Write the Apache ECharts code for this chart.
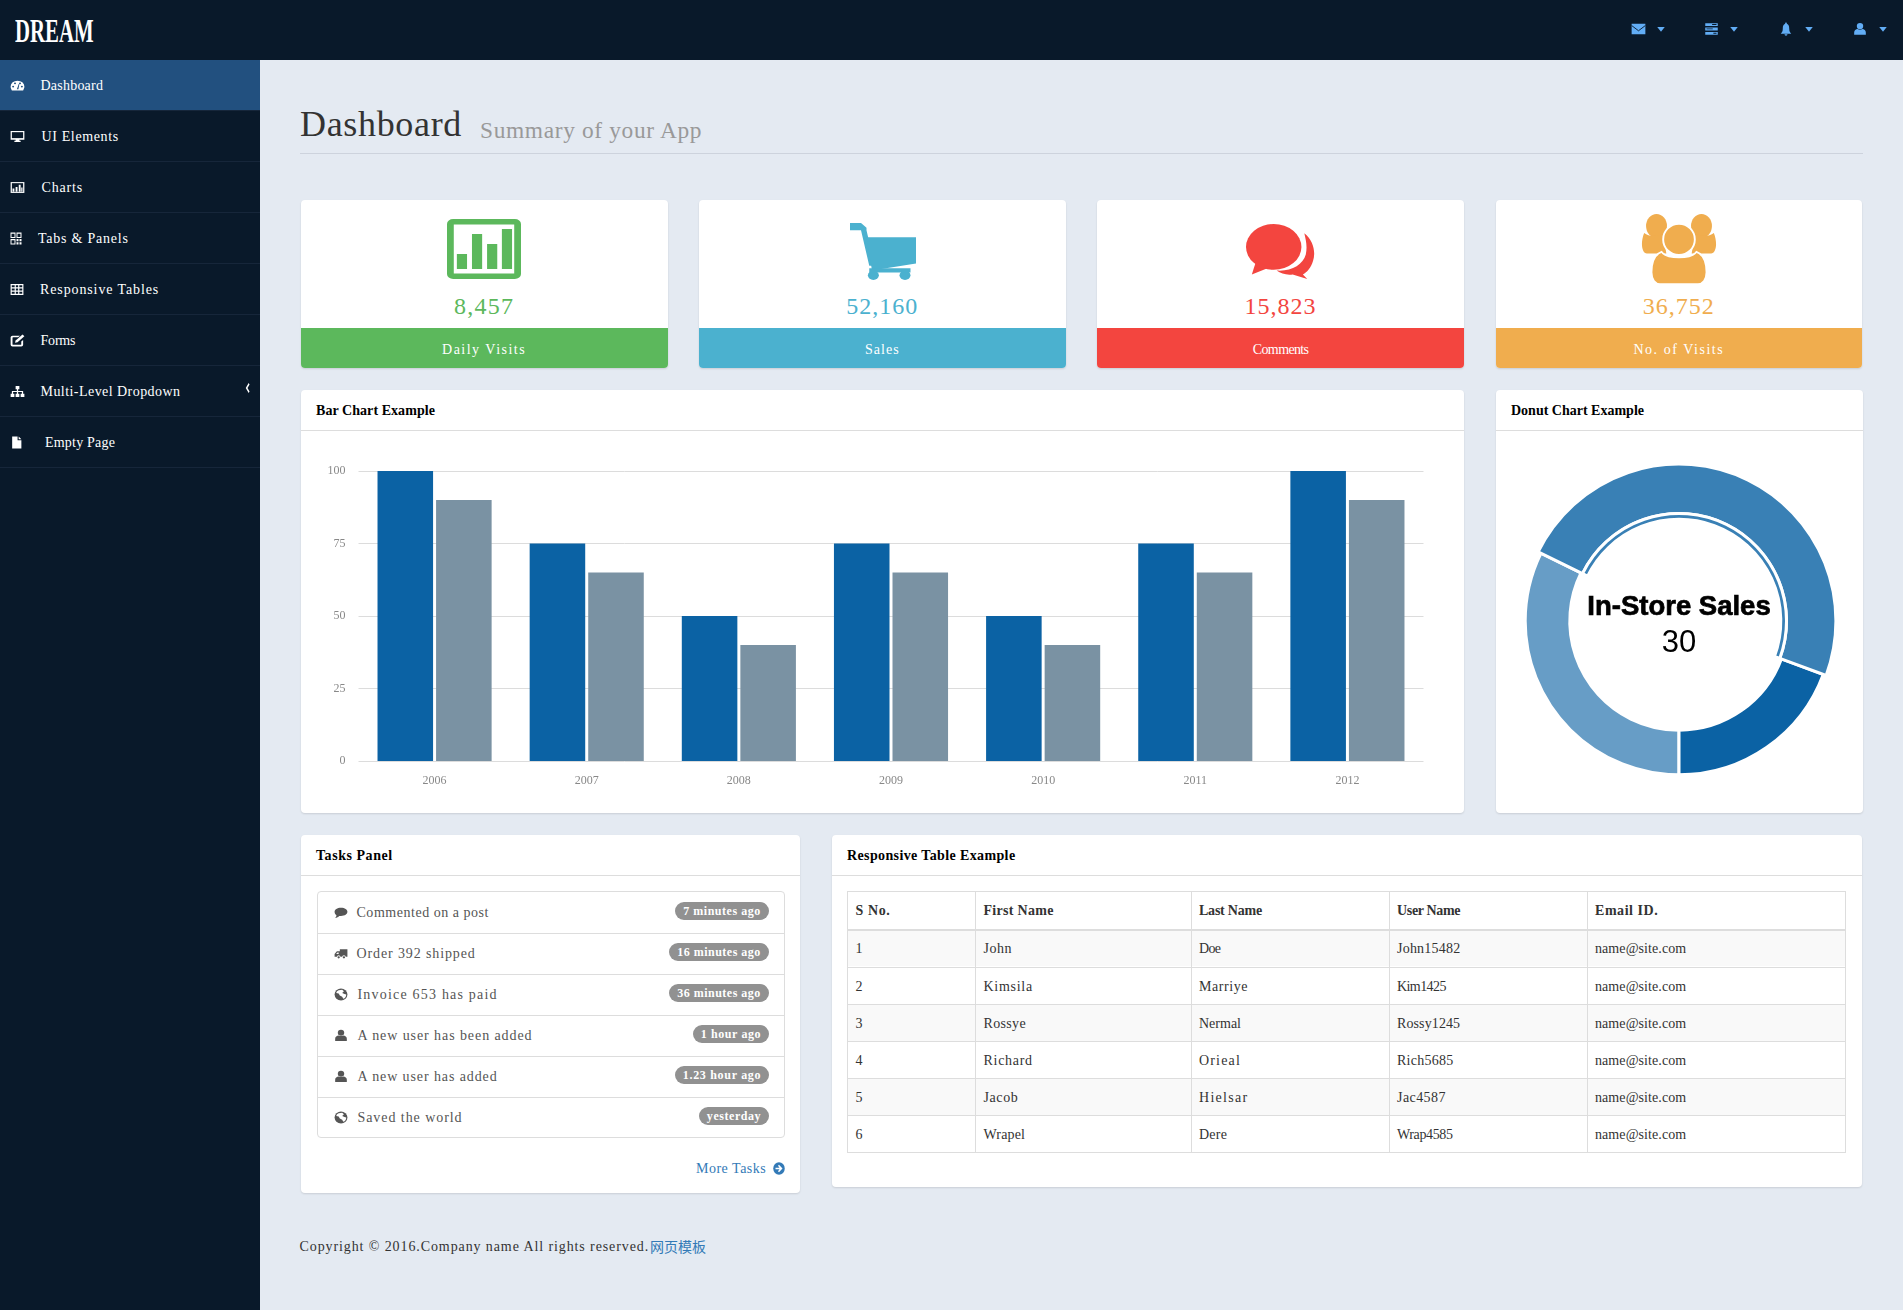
<!DOCTYPE html>
<html>
<head>
<meta charset="utf-8">
<title>DREAM Dashboard</title>
<script src="https://cdn.jsdelivr.net/npm/echarts@6/dist/echarts.min.js"></script>
<style>
    html, body { margin: 0; padding: 0; width: 1903px; height: 1310px; overflow: hidden; background: #e4eaf2; }
    body { position: relative; font-family: "Liberation Serif", serif; font-size: 14px; color: #333; }
    .box, .txt, svg.icon { position: absolute; box-sizing: border-box; }
    .txt { white-space: pre; line-height: 20px; height: 20px; }
    .panel { background: #fff; border-radius: 4px; box-shadow: 0 1px 2px rgba(0, 0, 0, .12); }
    #barChart, #donutChart { position: absolute; }
</style>
</head>
<body>
<div id="page"></div>
<div id="barChart" style="left:302px;top:432px;width:1160px;height:380px"></div>
<div id="donutChart" style="left:1497px;top:432px;width:364px;height:380px"></div>
<script>
// chart data
const years = ['2006', '2007', '2008', '2009', '2010', '2011', '2012'];
const seriesA = [100, 75, 50, 75, 50, 75, 100];
const seriesB = [90, 65, 40, 65, 40, 65, 90];
const donutNames = ['Mail-Order Sales', 'In-Store Sales', 'Download Sales'];
const donutValues = [20, 30, 12];

// page text
const navLabels = ['Dashboard', 'UI Elements', 'Charts', 'Tabs & Panels', 'Responsive Tables', 'Forms', 'Multi-Level Dropdown', 'Empty Page'];
const statValues = ['8,457', '52,160', '15,823', '36,752'];
const statLabels = ['Daily Visits', 'Sales', 'Comments', 'No. of Visits'];
const taskTexts = ['Commented on a post', 'Order 392 shipped', 'Invoice 653 has paid', 'A new user has been added', 'A new user has added', 'Saved the world'];
const taskAges = ['7 minutes ago', '16 minutes ago', '36 minutes ago', '1 hour ago', '1.23 hour ago', 'yesterday'];
const tableHeaders = ['S No.', 'First Name', 'Last Name', 'User Name', 'Email ID.'];
const tableFirstNames = ['John', 'Kimsila', 'Rossye', 'Richard', 'Jacob', 'Wrapel'];
const tableLastNames = ['Doe', 'Marriye', 'Nermal', 'Orieal', 'Hielsar', 'Dere'];
const tableUserNames = ['John15482', 'Kim1425', 'Rossy1245', 'Rich5685', 'Jac4587', 'Wrap4585'];
const tableEmail = 'name@site.com';

// colours
const navy = '#09192a';
const barColors = ['#0b62a4', '#7a92a3'];
const donutColors = ['#679dc6', '#3980b5', '#0b62a4'];
const statColors = ['#5cb85c', '#4bb1cf', '#f3453f', '#f0ad4e'];

// icons, all on a 24x24 box
const icons = {
    gauge: '<path d="M12 3a11 11 0 0 0-11 11c0 3 1 5 2 7h18c1-2 2-4 2-7A11 11 0 0 0 12 3z"/><g fill="#22507f"><circle cx="5" cy="14" r="1.6"/><circle cx="8" cy="8" r="1.6"/><circle cx="16" cy="8" r="1.6"/><circle cx="19" cy="14" r="1.6"/><path d="M11 19l3-10 1 .4-1.6 9.6z"/></g>',
    monitor: '<path d="M1 2h22v16h-8v2h2v2H7v-2h2v-2H1z"/><path fill="#09192a" d="M3 4h18v11H3z"/>',
    barbox: '<path d="M1 2h22v20H1z"/><path fill="#09192a" d="M3 4h18v16H3z"/><path d="M4 14h3v6H4zM9 11h3v9H9zM14 7h3v13h-3zM18 12h2v8h-2z"/>',
    qr: '<path fill-rule="evenodd" d="M1 1h10v10H1zM3 3v6h6V3zM13 1h10v10H13zM15 3v6h6V3zM1 13h10v10H1zM3 15v6h6v-6zM13 13h4v4h-4zM19 13h4v4h-4zM13 19h4v4h-4zM19 19h4v4h-4z"/>',
    table: '<path fill-rule="evenodd" d="M1 2h22v20H1zM3 4v4h5V4zM10 4v4h4V4zM16 4v4h5V4zM3 10v4h5v-4zM10 10v4h4v-4zM16 10v4h5v-4zM3 16v4h5v-4zM10 16v4h4v-4zM16 16v4h5v-4z"/>',
    edit: '<path fill-rule="evenodd" d="M5 3h11l-3 3H5a1 1 0 0 0-1 1v12a1 1 0 0 0 1 1h12a1 1 0 0 0 1-1v-5l3-3v9a3 3 0 0 1-3 3H4a3 3 0 0 1-3-3V6a3 3 0 0 1 3-3z"/><path d="M20 1l3 3-11 11-4 1 1-4z"/>',
    sitemap: '<path d="M9 2h6v6h-2v3h8v5h2v6h-6v-6h2v-3h-6v3h2v6H9v-6h2v-3H5v3h2v6H1v-6h2v-5h8V8H9z"/>',
    file: '<path d="M4 1h10v7h7v15H4zM16 1l5 5h-5z"/>',
    comment: '<path d="M12 3c6.500 0 11 3.400 11 7.800s-4.500 7.700-11 7.700c-1 0-2 0-3-.2C7.500 20 5 21.500 2 22c1.500-1.500 2-3 2.200-5C2 15.500 1 13.300 1 10.800 1 6.400 5.500 3 12 3z"/>',
    truck: '<path d="M10 4h13v14h-3a3 3 0 0 0-6 0h-3a3 3 0 0 0-6 0H1v-5l4-5h5zM3.500 13H8V10H6z"/><circle cx="8" cy="19" r="2"/><circle cx="17" cy="19" r="2"/>',
    globe: '<circle cx="12" cy="12" r="11"/><path fill="#fff" d="M8 4l6-1 3 3-3 3 4 2 3 1c0 4-2 7-5 8l-2-4-4-2-2-4-4-1c0-3 2-4 4-5z"/>',
    user: '<circle cx="12" cy="7" r="5.500"/><path d="M2 22v-4c0-4 3-5.500 6-6 2 1.500 6 1.500 8 0 3 .5 6 2 6 6v4z"/>',
    arrow: '<circle cx="12" cy="12" r="11.500"/><path fill="#fff" d="M12 5l7 7-7 7-2-2 3-3.500H5v-3h8L10 7z"/>',
    envelope: '<path d="M1 3h22v18H1z"/><path fill="none" stroke="#09192a" stroke-width="1.500" d="M1 6l11 9 11-9"/>',
    tasks: '<path d="M2 2h20v5H2zM2 9.500h20v5H2zM2 17h20v5H2z"/><path fill="#09192a" d="M13 3.500h7v1.500h-7zM4 11h10v1.500H4zM15 18.500h5V20h-5z"/>',
    bell: '<path d="M12 1c1 0 1.500 1 1.500 2 3 1 4 4 4 8 0 5 1.500 7 3.500 9H3c2-2 3.500-4 3.500-9 0-4 1-7 4-8 0-1 .5-2 1.500-2zM9.500 21h5c0 1.500-1 2.500-2.500 2.500S9.500 22.500 9.500 21z"/>',
    caret: '<path d="M3 6h18L12 20z"/>',
    chevron: '<path d="M16 2l3 3-7 7 7 7-3 3L6 12z"/>',
    statBars: '<path fill-rule="evenodd" d="M2 0h20a2 2 0 0 1 2 2v20a2 2 0 0 1-2 2H2a2 2 0 0 1-2-2V2a2 2 0 0 1 2-2zM2.200 2.200v19.600h19.600V2.200z"/><path d="M3.200 14h3.300v6H3.200zM8.100 6h3.300v14H8.100zM13 10h3.300v10H13zM17.800 4h3.300v16h-3.300z"/>',
    cart: '<path d="M0 0h4l2 2v1l3 15h-2L4 3H0z"/><path d="M6 6l18 0v11l-16 3z"/><circle cx="8.500" cy="22" r="2"/><circle cx="20" cy="22" r="2"/><path d="M7 19h15v1.800H7z"/>',
    chat: '<ellipse cx="9.500" cy="10" rx="9.500" ry="10"/><path d="M3.500 16l-1.500 6 6-3z"/><path fill-rule="evenodd" d="M20 4c3 3 4 8 3 12-.7 3-2 5-3.500 6l1.500 2-5-2c-2 .4-4-.3-5.500-1.700 5 .5 9-2.500 10-7 .6-3.500 0-6.500-.5-9.300z"/>',
    people: '<ellipse cx="4.900" cy="4.100" rx="3.300" ry="4.100"/><ellipse cx="19.100" cy="4.100" rx="3.300" ry="4.100"/>'
        + '<path d="M1 6.500c1.500 1.300 4.500 1.300 6 0l1 7H2C.3 13.700-.3 10 1 6.500zM23 6.500c-1.500 1.300-4.500 1.300-6 0l-1 7h6c1.700.2 2.300-3.500 1-7z"/>'
        + '<ellipse cx="12" cy="8.700" rx="5" ry="5.300" stroke="#fff" stroke-width=".6"/>'
        + '<path stroke="#fff" stroke-width=".6" d="M6.500 13C8 15.500 16 15.500 17.500 13 20 14 20.700 17 20.700 20c0 2.500-1.200 4-2.700 4H6c-1.500 0-2.700-1.500-2.700-4 0-3 .7-6 3.200-7z"/>'
};

const page = document.getElementById('page');

function addBox(x, y, w, h, style) {
    page.insertAdjacentHTML('beforeend', `<div class="box" style="left:${x}px;top:${y}px;width:${w}px;height:${h}px;${style || ''}"></div>`);
}

// text placed by its vertical centre, align is left or center or right
function addText(x, cy, text, style, align) {
    const shift = align === 'center' ? 'translateX(-50%)' : align === 'right' ? 'translateX(-100%)' : 'none';
    const safe = text.replace(/&/g, '&amp;');
    page.insertAdjacentHTML('beforeend', `<span class="txt sim" style="left:${x}px;top:${cy - 10}px;transform:${shift};${style || ''}">${safe}</span>`);
}

function addIcon(name, x, y, w, h, color) {
    page.insertAdjacentHTML('beforeend', `<svg class="icon" viewBox="0 0 24 24" preserveAspectRatio="none" style="left:${x}px;top:${y}px;width:${w}px;height:${h}px;fill:${color}">${icons[name]}</svg>`);
}

function renderFrame() {
    addBox(0, 0, 1903, 60, `background:${navy}`);
    addBox(0, 60, 260, 1250, `background:${navy}`);
    page.insertAdjacentHTML('beforeend', `<span class="txt" style="left:15px;top:20px;height:22px;line-height:22px;color:#fff;font-weight:bold;font-size:33px;transform-origin:0 50%;transform:scaleX(.63)">DREAM</span>`);

    const topIcons = ['envelope', 'tasks', 'bell', 'user'];
    const topX = [1631, 1704, 1779, 1853];
    const topW = [15, 15, 14, 14];
    topIcons.forEach((name, i) => {
        addIcon(name, topX[i], 22, topW[i], 14, '#62adf5');
        addIcon('caret', topX[i] + 25, 25, 10, 8, '#62adf5');
    });
}

function renderNav() {
    const navIcons = ['gauge', 'monitor', 'barbox', 'qr', 'table', 'edit', 'sitemap', 'file'];
    const navTextX = [40.5, 41.5, 41.5, 38, 40, 40.5, 40.5, 45];
    const navIconW = [15, 15, 15, 12, 14, 15, 15, 13];
    navLabels.forEach((label, i) => {
        const top = 60 + i * 51;
        if (i === 0) addBox(0, top, 260, 50, 'background:#22507f');
        addBox(0, top + 50, 260, 1, 'background:#16263a');
        addIcon(navIcons[i], 10, top + 18.500, navIconW[i], 13, '#fff');
        addText(navTextX[i], top + 26, label, 'color:#fff');
    });
    addIcon('chevron', 244, 382, 7, 12, '#fff');
}

function renderHeader() {
    addText(300, 124, 'Dashboard', 'font-size:36px;line-height:40px;height:40px;top:104px;color:#333');
    addText(480, 130, 'Summary of your App', 'font-size:23.4px;line-height:30px;height:30px;top:115px;color:#999');
    addBox(300, 153, 1563, 1, 'background:#cdd3dd');
}

function renderStats() {
    const cardX = [300.75, 699, 1097.25, 1495.5];
    const iconNames = ['statBars', 'cart', 'chat', 'people'];
    const iconBoxes = [[447, 219, 74, 60], [850, 223, 66, 57], [1246, 224, 70, 55], [1641, 214, 76, 70]];
    cardX.forEach((x, i) => {
        const box = iconBoxes[i];
        addBox(x, 200, 366.75, 168, 'background:#fff;border-radius:4px;box-shadow:0 1px 2px rgba(0,0,0,.12)');
        addBox(x, 328, 366.75, 40, `background:${statColors[i]};border-radius:0 0 4px 4px`);
        addIcon(iconNames[i], box[0], box[1], box[2], box[3], statColors[i]);
        addText(x + 183.37, 306, statValues[i], `font-size:24px;line-height:30px;height:30px;top:291px;color:${statColors[i]}`, 'center');
        addText(x + 183.37, 349.500, statLabels[i], 'color:#fff', 'center');
    });
}

function addPanel(x, y, w, h, title, titleX) {
    page.insertAdjacentHTML('beforeend', `<div class="box panel" style="left:${x}px;top:${y}px;width:${w}px;height:${h}px"></div>`);
    addBox(x, y + 40, w, 1, 'background:#ddd');
    addText(titleX, y + 21, title, 'font-weight:bold;color:#000');
}

function renderTasks() {
    addPanel(301, 835, 499, 358, 'Tasks Panel', 316);
    addBox(316.500, 891, 468, 247, 'background:#fff;border:1px solid #ddd;border-radius:4px');
    const taskIcons = ['comment', 'truck', 'globe', 'user', 'user', 'globe'];
    const taskTextX = [356.5, 356.5, 357.5, 357.5, 357.5, 357.5];
    taskTexts.forEach((text, i) => {
        const top = 891.5 + i * 41;
        if (i > 0) addBox(316.500, top, 468, 1, 'background:#ddd');
        addIcon(taskIcons[i], 334, top + 14, 14, 13, '#555');
        addText(taskTextX[i], top + 21.500, text, 'color:#555');
        const badgeW = taskAges[i].length * 6 + 16;
        addBox(769 - badgeW, top + 10.500, badgeW, 18, 'background:#919191;border-radius:9px');
        addText(769 - badgeW / 2, top + 19, taskAges[i], 'font-size:12px;font-weight:bold;color:#fff', 'center');
    });
    addText(696, 1168.500, 'More Tasks', 'color:#337ab7');
    addIcon('arrow', 773, 1162, 12, 13, '#337ab7');
}

function renderTable() {
    addPanel(832, 835, 1030, 352, 'Responsive Table Example', 847);
    const columnX = [847, 975, 1190.500, 1388.500, 1586.500, 1845];
    const rowY = [891, 929, 966.500, 1003.500, 1040.500, 1077.500, 1114.500, 1151.500];
    tableFirstNames.forEach((name, i) => {
        if (i % 2 === 0) addBox(847, rowY[i + 1], 998, 37, 'background:#f9f9f9');
    });
    rowY.forEach((y, i) => {
        addBox(847, y, 999, i === 1 ? 2 : 1, 'background:#ddd');
    });
    columnX.forEach(x => {
        addBox(x, 891, 1, 261, 'background:#ddd');
    });
    tableHeaders.forEach((head, c) => {
        addText(columnX[c] + 8.500, 910.500, head, 'font-weight:bold;color:#333');
    });
    tableFirstNames.forEach((name, i) => {
        const cells = [String(i + 1), name, tableLastNames[i], tableUserNames[i], tableEmail];
        cells.forEach((cell, c) => {
            addText(columnX[c] + 8.500, rowY[i + 1] + 20, cell, 'color:#333');
        });
    });
}

function renderFooter() {
    addText(299.500, 1246.500, 'Copyright © 2016.Company name All rights reserved.', 'color:#333');
    page.insertAdjacentHTML('beforeend', '<span class="txt" style="left:650px;top:1236px;color:#337ab7;font-family:\'Noto Sans CJK SC\'">网页模板</span>');
}

// the reference font has half-em latin glyphs, so spread each text to that width
function fitLatinWidth() {
    document.querySelectorAll('.sim').forEach(el => {
        const size = parseFloat(getComputedStyle(el).fontSize);
        const n = el.textContent.length;
        const gap = (n * size / 2 - el.offsetWidth) / n;
        el.style.letterSpacing = gap + 'px';
    });
}

function renderBarChart() {
    const chart = echarts.init(document.getElementById('barChart'));
    chart.setOption({
        animation: false,
        tooltip: { trigger: 'axis' },
        grid: { left: 56.5, top: 39, width: 1065, height: 290 },
        xAxis: {
            type: 'category',
            data: years,
            axisLine: { show: false },
            axisTick: { show: false },
            axisLabel: { color: '#888', fontSize: 12, fontFamily: 'Liberation Serif', margin: 14 }
        },
        yAxis: {
            type: 'value',
            min: 0,
            max: 100,
            interval: 25,
            axisLine: { show: false },
            axisTick: { show: false },
            axisLabel: { color: '#888', fontSize: 12, fontFamily: 'Liberation Serif', margin: 13 },
            splitLine: { lineStyle: { color: '#dcdcdc', width: 1 } }
        },
        series: [
            { name: 'Series A', type: 'bar', data: seriesA, barCategoryGap: '25%', barGap: '5.4%', itemStyle: { color: barColors[0] } },
            { name: 'Series B', type: 'bar', data: seriesB, itemStyle: { color: barColors[1] } }
        ]
    });
}

// one ring of the donut, only the items picked by showItem are painted
function donutRing(radius, showItem) {
    return {
        type: 'pie',
        silent: true,
        center: [182, 189],
        radius: radius,
        startAngle: 270,
        label: { show: false },
        labelLine: { show: false },
        data: donutValues.map((value, i) => ({
            name: donutNames[i],
            value: value,
            itemStyle: showItem(i)
                ? { color: donutColors[i], borderColor: '#fff', borderWidth: 3 }
                : { color: 'transparent', borderWidth: 0 }
        }))
    };
}

function renderDonutChart() {
    const selected = donutValues.indexOf(Math.max(...donutValues));
    const chart = echarts.init(document.getElementById('donutChart'));
    chart.setOption({
        animation: false,
        series: [
            donutRing([109.2, 153.8], i => i !== selected),
            donutRing([107.5, 156.9], i => i === selected),
            donutRing([101.8, 107.5], i => i === selected)
        ],
        graphic: [
            { type: 'text', x: 182, y: 175, style: { text: donutNames[selected], fill: '#000', stroke: '#000', lineWidth: 0.7, font: 'bold 27.5px "Liberation Sans"', align: 'center', verticalAlign: 'middle' } },
            { type: 'text', x: 182, y: 211.500, style: { text: String(donutValues[selected]), fill: '#000', font: '31px "Liberation Sans"', align: 'center', verticalAlign: 'middle' } }
        ]
    });
}

renderFrame();
renderNav();
renderHeader();
renderStats();
addPanel(301, 390, 1162.500, 423, 'Bar Chart Example', 316);
addPanel(1496, 390, 366.500, 423, 'Donut Chart Example', 1511);
renderTasks();
renderTable();
renderFooter();
fitLatinWidth();
renderBarChart();
renderDonutChart();
</script>
</body>
</html>
